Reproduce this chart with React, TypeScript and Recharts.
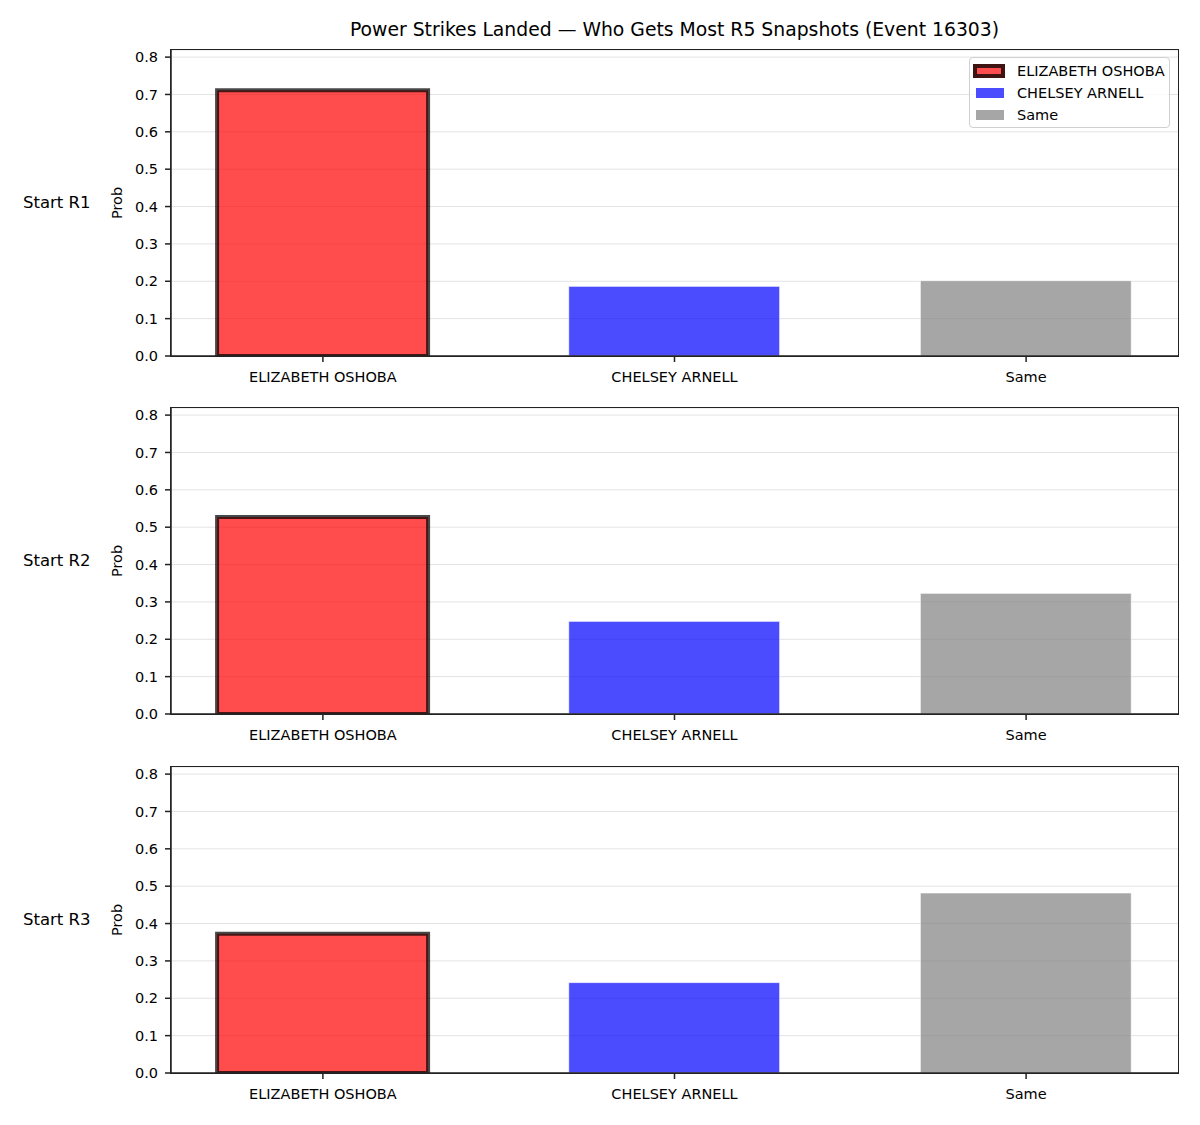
import React from 'react';
import { BarChart, Bar, XAxis, YAxis, CartesianGrid, Cell } from 'recharts';

// Outcome categories (x axis) and per-start-round probabilities
const categories = ['ELIZABETH OSHOBA', 'CHELSEY ARNELL', 'Same'];
const rowLabels = ['Start R1', 'Start R2', 'Start R3'];
const probStartR1 = [0.711, 0.1865, 0.2015];
const probStartR2 = [0.527, 0.248, 0.323];
const probStartR3 = [0.373, 0.242, 0.482];
const yTicks = [0, 0.1, 0.2, 0.3, 0.4, 0.5, 0.6, 0.7, 0.8];
const barColors = ['#ff0000', '#0000ff', '#808080'];
const title = 'Power Strikes Landed — Who Gets Most R5 Snapshots (Event 16303)';

const FONT = '"DejaVu Sans", sans-serif';
const Y_MAX = 0.819;
const X_DOMAIN: [number, number] = [-0.432, 2.432];
const PANEL_TOPS = [0, 358, 717];
const CHART_H = 400;
const PLOT = { left: 171, top: 50, right: 1178, bottom: 356 };

const panels = [probStartR1, probStartR2, probStartR3];

function LegendBox() {
  const row = (i: number) => (
    <div key={i} style={{ display: 'flex', alignItems: 'center', height: 22 }}>
      <div
        style={{
          boxSizing: 'border-box',
          width: i === 0 ? 32 : 28,
          height: i === 0 ? 14 : 10,
          marginLeft: i === 0 ? 3 : 6,
          marginRight: i === 0 ? 12 : 13,
          background: i === 0 ? 'rgba(255,0,0,0.7)' : barColors[i],
          opacity: i === 0 ? 1 : 0.7,
          border: i === 0 ? '4px solid rgba(0,0,0,0.75)' : 'none',
        }}
      />
      <span style={{ fontFamily: FONT, fontSize: 14.5, color: '#000', whiteSpace: 'nowrap' }}>
        {categories[i]}
      </span>
    </div>
  );
  return (
    <div
      style={{
        position: 'absolute',
        left: 969,
        top: 57,
        width: 201,
        height: 71,
        border: '1px solid #d0d0d0',
        borderRadius: 4,
        background: 'rgba(255,255,255,0.8)',
        boxSizing: 'border-box',
        paddingTop: 2,
      }}
    >
      {[0, 1, 2].map(row)}
    </div>
  );
}

function Panel({ values, idx }: { values: number[]; idx: number }) {
  const data = values.map((v, i) => ({ x: i, prob: v, name: categories[i] }));
  return (
    <div style={{ position: 'absolute', left: 0, top: PANEL_TOPS[idx], width: 1200, height: CHART_H }}>
      <BarChart
        width={1200}
        height={CHART_H}
        data={data}
        margin={{ top: PLOT.top, right: 1200 - PLOT.right, bottom: CHART_H - PLOT.bottom - 30, left: PLOT.left - 60 }}
      >
        <CartesianGrid vertical={false} horizontal stroke="#e3e3e3" strokeWidth={1} />
        <XAxis
          dataKey="x"
          type="number"
          domain={X_DOMAIN}
          ticks={[0, 1, 2]}
          tickFormatter={(v: number) => categories[v]}
          height={30}
          allowDataOverflow
          tickSize={6}
          tickMargin={10}
          tick={{ fill: '#000', fontSize: 14.5, fontFamily: FONT }}
          axisLine={{ stroke: '#222', strokeWidth: 1.5 }}
          tickLine={{ stroke: '#222', strokeWidth: 1.5 }}
        />
        <YAxis
          type="number"
          domain={[0, Y_MAX]}
          ticks={yTicks}
          allowDataOverflow
          width={60}
          tickSize={6}
          tickMargin={7}
          tickFormatter={(v: number) => v.toFixed(1)}
          tick={{ fill: '#000', fontSize: 14.5, fontFamily: FONT }}
          axisLine={{ stroke: '#222', strokeWidth: 1.5 }}
          tickLine={{ stroke: '#222', strokeWidth: 1.5 }}
        />
        <Bar dataKey="prob" barSize={211} isAnimationActive={false}>
          {data.map((d, i) => (
            <Cell
              key={d.name}
              fill={barColors[i]}
              fillOpacity={0.7}
              stroke={i === 0 ? '#000' : '#fff'}
              strokeOpacity={0.72}
              strokeWidth={i === 0 ? 4 : 1}
            />
          ))}
        </Bar>
      </BarChart>
      {/* axes frame around the plotting area */}
      <div
        style={{
          position: 'absolute',
          left: PLOT.left - 0.75,
          top: PLOT.top - 0.75,
          width: PLOT.right - PLOT.left + 1.5,
          height: PLOT.bottom - PLOT.top + 1.5,
          border: '1.5px solid #222',
          boxSizing: 'border-box',
          pointerEvents: 'none',
        }}
      />
      {idx === 0 && <LegendBox />}
      <div
        style={{
          position: 'absolute',
          left: 23,
          top: 193,
          fontFamily: FONT,
          fontSize: 16.5,
          color: '#000',
          lineHeight: '20px',
          whiteSpace: 'nowrap',
        }}
      >
        {rowLabels[idx]}
      </div>
      <div
        style={{
          position: 'absolute',
          left: 117,
          top: 203,
          fontFamily: FONT,
          fontSize: 14.5,
          color: '#000',
          lineHeight: '16px',
          transform: 'translate(-50%, -50%) rotate(-90deg)',
          whiteSpace: 'nowrap',
        }}
      >
        Prob
      </div>
    </div>
  );
}

export default function App() {
  return (
    <div style={{ position: 'absolute', left: 0, top: 0, width: 1200, height: 1125, background: '#fff' }}>
      {panels.map((vals, i) => (
        <Panel key={rowLabels[i]} values={vals} idx={i} />
      ))}
      <div
        style={{
          position: 'absolute',
          left: PLOT.left,
          width: PLOT.right - PLOT.left,
          top: 19,
          textAlign: 'center',
          fontFamily: FONT,
          fontSize: 18.8,
          lineHeight: '22px',
          color: '#000',
          whiteSpace: 'nowrap',
        }}
      >
        {title}
      </div>
    </div>
  );
}
